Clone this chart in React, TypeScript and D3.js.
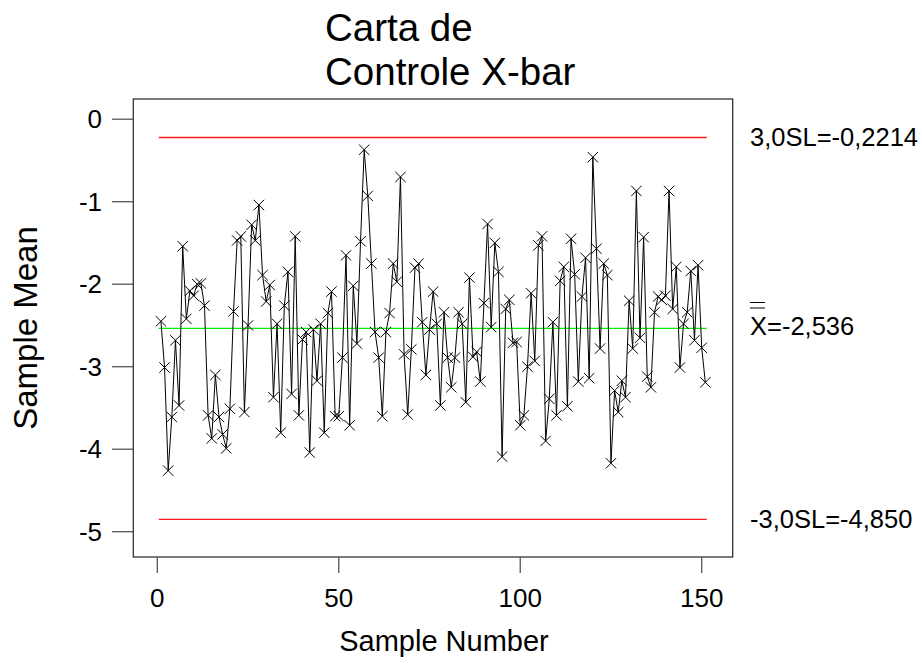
import React from "react";
import * as d3 from "d3";

const title = ["Carta de", "Controle X-bar"];
const xLabel = "Sample Number";
const yLabel = "Sample Mean";
const xTicks = [0, 50, 100, 150];
const yTicks = [0, -1, -2, -3, -4, -5];
const UCL = -0.2214;
const CL = -2.536;
const LCL = -4.85;
const uclLabel = "3,0SL=-0,2214";
const clLabel = "X=-2,536";
const lclLabel = "-3,0SL=-4,850";

const means = [
  -2.45, -3.01, -4.26, -3.61, -2.68, -3.47, -1.54, -2.42, -2.08, -2.14,
  -2.0, -1.99, -2.26, -3.59, -3.87, -3.1, -3.61, -3.82, -3.99, -3.51,
  -2.33, -1.47, -1.42, -3.55, -2.5, -1.28, -1.47, -1.04, -1.89, -2.21,
  -2.01, -3.37, -2.48, -3.8, -2.26, -1.85, -3.33, -1.42, -3.59, -2.67,
  -2.58, -4.04, -2.55, -3.17, -2.48, -3.8, -2.35, -2.09, -3.6, -3.6,
  -2.89, -1.65, -3.71, -2.02, -2.72, -1.48, -0.37, -0.93, -1.75, -2.58,
  -2.89, -3.6, -2.58, -2.35, -1.75, -1.97, -0.7, -2.85, -3.58, -2.79,
  -1.8, -1.75, -2.46, -3.1, -2.55, -2.09, -2.48, -3.47, -2.34, -2.89,
  -3.25, -2.89, -2.34, -2.48, -3.43, -1.92, -2.88, -2.82, -3.18, -2.23,
  -1.27, -2.52, -1.5, -1.85, -4.09, -2.3, -2.19, -2.71, -2.7, -3.71,
  -3.59, -3.0, -2.11, -2.93, -1.53, -1.42, -3.9, -3.39, -2.46, -3.59,
  -1.96, -1.79, -3.48, -1.45, -1.88, -3.18, -2.15, -1.68, -3.14, -0.46,
  -1.57, -2.78, -1.75, -1.89, -4.17, -3.29, -3.55, -3.17, -3.37, -2.2,
  -2.78, -0.87, -2.65, -1.43, -3.12, -3.25, -2.34, -2.15, -2.19, -2.14,
  -0.87, -2.3, -1.79, -3.01, -2.48, -2.34, -1.84, -2.68, -1.77, -2.77,
  -3.19,
];
const sampleNumbers = means.map((_, i) => i + 1);

const FONT = "'Liberation Sans', Arial, Helvetica, sans-serif";

export default function App() {
  const W = 922;
  const H = 664;
  const box = { left: 133.3, right: 732.7, top: 99, bottom: 557 };
  const x = d3.scaleLinear().domain([0, 150]).range([157.3, 701.7]);
  const y = d3.scaleLinear().domain([0, -5]).range([119.2, 531.7]);

  const line = d3
    .line<number>()
    .x((_, i) => x(sampleNumbers[i]))
    .y((d) => y(d));

  const limStart = x(0.4);
  const limEnd = x(151.4);
  const m = 5.2;

  return (
    <svg
      width={W}
      height={H}
      style={{ position: "absolute", left: 0, top: 0, background: "#fff" }}
      fontFamily={FONT}
    >
      <rect x={0} y={0} width={W} height={H} fill="#fff" />
      {title.map((t, i) => (
        <text key={t} x={325} y={41 + i * 44} fontSize={38.5} fill="#000">
          {t}
        </text>
      ))}
      <rect
        x={box.left}
        y={box.top}
        width={box.right - box.left}
        height={box.bottom - box.top}
        fill="none"
        stroke="#333"
        strokeWidth={1.3}
      />
      {yTicks.map((t) => (
        <g key={"y" + t}>
          <line x1={112} x2={box.left} y1={y(t)} y2={y(t)} stroke="#555" strokeWidth={1.3} />
          <text x={102} y={y(t) + 9.2} fontSize={26} textAnchor="end" fill="#000">
            {t}
          </text>
        </g>
      ))}
      {xTicks.map((t) => (
        <g key={"x" + t}>
          <line x1={x(t)} x2={x(t)} y1={box.bottom} y2={box.bottom + 16} stroke="#555" strokeWidth={1.3} />
          <text x={x(t)} y={606.5} fontSize={26} textAnchor="middle" fill="#000">
            {t}
          </text>
        </g>
      ))}
      <text x={444} y={651} fontSize={29} textAnchor="middle" fill="#000">
        {xLabel}
      </text>
      <text
        transform={`translate(37, ${(box.top + box.bottom) / 2}) rotate(-90)`}
        fontSize={33}
        textAnchor="middle"
        fill="#000"
      >
        {yLabel}
      </text>
      <line x1={limStart} x2={limEnd} y1={y(UCL)} y2={y(UCL)} stroke="#ff1a1a" strokeWidth={1.4} />
      <line x1={limStart} x2={limEnd} y1={y(LCL)} y2={y(LCL)} stroke="#ff1a1a" strokeWidth={1.4} />
      <line x1={limStart} x2={limEnd} y1={y(CL)} y2={y(CL)} stroke="#00f000" strokeWidth={1.4} />
      <path d={line(means) || ""} fill="none" stroke="#000" strokeWidth={1} />
      {means.map((v, i) => {
        const cx = x(sampleNumbers[i]);
        const cy = y(v);
        return (
          <path
            key={i}
            d={`M${cx - m},${cy - m}L${cx + m},${cy + m}M${cx - m},${cy + m}L${cx + m},${cy - m}`}
            stroke="#000"
            strokeWidth={1}
            fill="none"
          />
        );
      })}
      <text x={750} y={y(UCL) + 8.5} fontSize={25.5} fill="#000">
        {uclLabel}
      </text>
      <line x1={750} x2={765} y1={302.5} y2={302.5} stroke="#000" strokeWidth={1} />
      <line x1={750} x2={765} y1={308} y2={308} stroke="#000" strokeWidth={1} />
      <text x={750} y={y(CL) + 7} fontSize={25.5} fill="#000">
        {clLabel}
      </text>
      <text x={750} y={y(LCL) + 8.5} fontSize={25.5} fill="#000">
        {lclLabel}
      </text>
    </svg>
  );
}
